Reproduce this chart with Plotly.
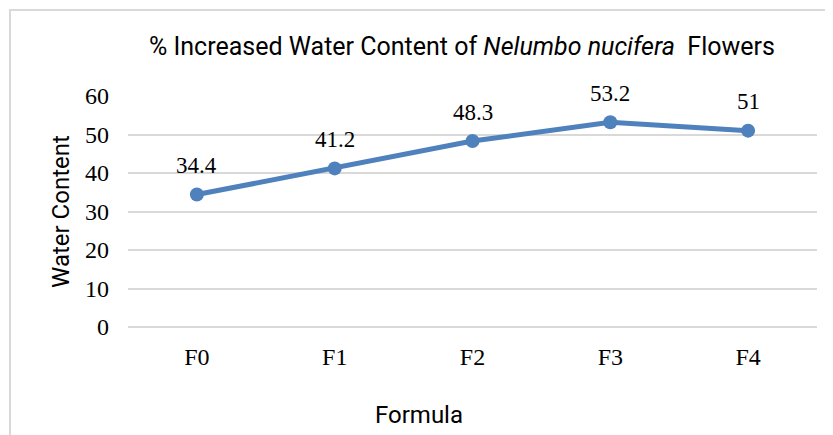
import plotly.graph_objects as go

categories = ["F0", "F1", "F2", "F3", "F4"]
values = [34.4, 41.2, 48.3, 53.2, 51]
y_ticks = [0, 10, 20, 30, 40, 50, 60]
title_text = "% Increased Water Content of <i>Nelumbo nucifera</i>  Flowers"
x_title = "Formula"
y_title = "Water Content"

# page offset (default body margin of the html page)
OFF = 8
PAGE_W, PAGE_H = 833, 435
W, H = PAGE_W - OFF, PAGE_H - OFF
# plot area in page pixels
PL, PR, PT, PB = 128, 817, 96, 327
L, R, T, B = PL - OFF, PAGE_W - PR, PT - OFF, PAGE_H - PB
pw, ph = PR - PL, PB - PT


def px(xp):
    return (xp - PL) / pw


def py(yp):
    return (PB - yp) / ph


blue = "rgb(79,129,189)"
grid = "rgb(217,217,217)"
serif = "Liberation Serif, Times New Roman, serif"
sans = "Roboto, Liberation Sans, sans-serif"

fig = go.Figure()
fig.add_trace(go.Scatter(
    x=categories, y=values, mode="lines+markers",
    line=dict(color=blue, width=5),
    marker=dict(color=blue, size=14),
    hoverinfo="skip", showlegend=False,
))

annotations = []
for c, v in zip(categories, values):
    annotations.append(dict(
        x=c, y=v, xref="x", yref="y", text=f"{v:g}", showarrow=False,
        yshift=29, yanchor="middle", xanchor="center",
        font=dict(family=serif, size=23, color="#000"),
    ))
annotations.append(dict(
    x=px(419), y=py(415), xref="paper", yref="paper",
    text=x_title, showarrow=False, xanchor="center", yanchor="middle",
    font=dict(family=sans, size=24, color="#000"),
))
annotations.append(dict(
    x=px(61), y=py(212), xref="paper", yref="paper",
    text=y_title, showarrow=False, xanchor="center", yanchor="middle",
    textangle=-90,
    font=dict(family=sans, size=24, color="#000"),
))
annotations.append(dict(
    x=px(462), y=py(47), xref="paper", yref="paper",
    text=title_text, showarrow=False, xanchor="center", yanchor="middle",
    font=dict(family=sans, size=25, color="#000"),
))

shapes = [
    dict(type="line", xref="paper", yref="paper",
         x0=px(10), x1=px(10), y0=py(10), y1=py(450),
         line=dict(color=grid, width=2)),
    dict(type="line", xref="paper", yref="paper",
         x0=px(9), x1=px(850), y0=py(10), y1=py(10),
         line=dict(color=grid, width=2)),
]

fig.update_layout(
    width=W, height=H,
    margin=dict(l=L, r=R, t=T, b=B, pad=0),
    paper_bgcolor="white", plot_bgcolor="white",
    xaxis=dict(
        type="category", range=[-0.5, 4.5], showgrid=False, showline=False,
        zeroline=False, ticks="", ticklabelstandoff=13,
        tickfont=dict(family=serif, size=24, color="#000"),
    ),
    yaxis=dict(
        range=[0, 60], tickvals=y_ticks, showgrid=True, gridcolor=grid,
        gridwidth=1.5, zeroline=True, zerolinecolor=grid, zerolinewidth=1.5,
        showline=False, ticks="", ticklabelstandoff=18,
        tickfont=dict(family=serif, size=24, color="#000"),
    ),
    annotations=annotations, shapes=shapes,
)

fig.write_html("out.html")
